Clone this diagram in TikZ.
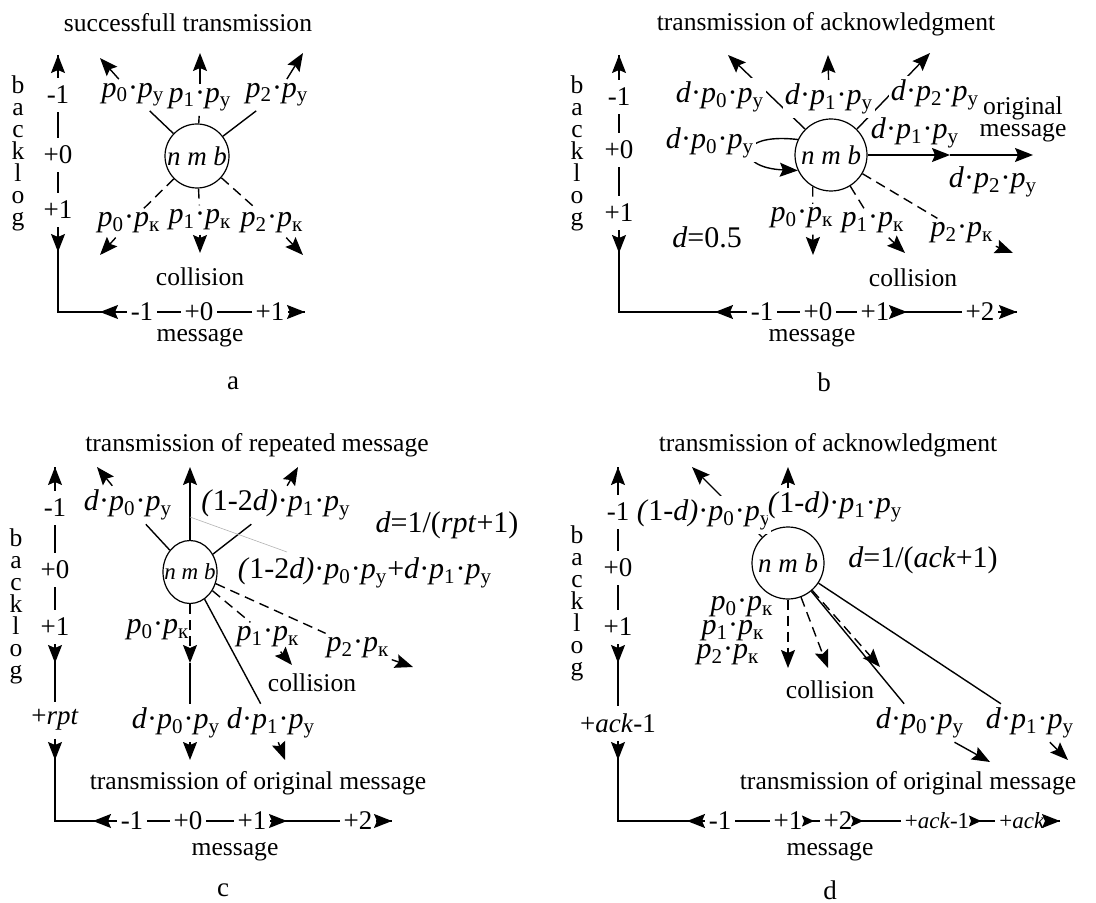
\documentclass[tikz,border=0pt]{standalone}
\usepackage{fontspec}
\setmainfont{Liberation Serif}
\usetikzlibrary{arrows.meta,shapes.geometric}

\newcommand{\prb}[2]{\textit{p}\textsubscript{#1}·\textit{p}\textsubscript{#2}}
\newcommand{\dmul}{\textit{d}·}

\tikzset{
  ax/.style={line width=0.7pt,draw=black},
  arrow/.style={ax,-{Stealth[length=9pt,width=7pt,inset=1.5pt]}},
  smallarrow/.style={ax,-{Stealth[length=6pt,width=5.5pt,inset=1pt]}},
  dashline/.style={dash pattern=on 5pt off 3pt},
  leader/.style={draw=gray!60,line width=0.3pt},
  txt/.style={font=\fontsize{12.8}{11}\selectfont,inner sep=1pt,align=center},
  num/.style={font=\fontsize{13.5}{15}\selectfont,fill=white,inner xsep=2pt,inner ysep=4pt},
  hnum/.style={num,inner ysep=1pt},
  smallnum/.style={hnum,font=\fontsize{11.5}{13}\selectfont},
  lbl/.style={font=\fontsize{15}{17}\selectfont,inner sep=1pt},
  onl/.style={lbl,fill=white,inner xsep=1pt,inner ysep=2pt},
  nmb/.style={circle,draw,line width=0.6pt,inner sep=0pt,font=\fontsize{13.5}{15}\itshape\selectfont}
}

\begin{document}
\begin{tikzpicture}[x=0.5pt,y=-0.5pt]
  \useasboundingbox (0,0) rectangle (1096,903);

  \node[txt] (ttlA) at (188,23) {successfull transmission};
  \node[txt] (blogA) at (18,153) {b\\a\\c\\k\\l\\o\\g};
  \coordinate (upA) at (58,55);
  \coordinate (dnA) at (58,252);
  \coordinate (crA) at (58,312);
  \coordinate (lfA) at (100,312);
  \coordinate (rtA) at (305,312);
  \draw[ax] (upA) -- (crA) -- (rtA);
  \node[num] (vA1) at (58,95) {-1};
  \node[num] (vA2) at (58,155) {+0};
  \node[num] (vA3) at (58,210) {+1};
  \node[hnum] (hA1) at (142,312) {-1};
  \node[hnum] (hA2) at (199,312) {+0};
  \node[hnum] (hA3) at (270,312) {+1};
  \draw[arrow] (vA1) -- (upA);
  \draw[arrow] (vA3) -- (dnA);
  \draw[arrow] (hA1) -- (lfA);
  \draw[arrow] (hA3) -- (rtA);
  \node[txt] (msgA) at (200,338) {message};
  \node[txt,font=\fontsize{13.5}{15}\selectfont] (capA) at (233,383) {a};

  \node[nmb,minimum size=32pt] (nmbA) at (197,156) {n m b};
  \coordinate (tyA0) at (100,58);
  \coordinate (tyA1) at (200,53);
  \coordinate (tyA2) at (303,53);
  \coordinate (tkA0) at (100,255);
  \coordinate (tkA1) at (200,253);
  \coordinate (tkA2) at (303,255);
  \node[onl] (pyA0) at (133,95) {\prb{0}{у}};
  \node[onl] (pyA1) at (200,100) {\prb{1}{у}};
  \node[onl] (pyA2) at (277,95) {\prb{2}{у}};
  \node[onl] (pkA0) at (129,223) {\prb{0}{к}};
  \node[onl] (pkA1) at (200,220) {\prb{1}{к}};
  \node[onl] (pkA2) at (272,223) {\prb{2}{к}};
  \draw[ax] (nmbA) -- (pyA0);
  \draw[ax] (nmbA) -- (pyA1);
  \draw[ax] (nmbA) -- (pyA2);
  \draw[arrow] (pyA0) -- (tyA0);
  \draw[arrow] (pyA1) -- (tyA1);
  \draw[arrow] (pyA2) -- (tyA2);
  \draw[ax,dashline] (nmbA) -- (pkA0);
  \draw[ax,dashline] (nmbA) -- (pkA1);
  \draw[ax,dashline] (nmbA) -- (pkA2);
  \draw[arrow] (pkA0) -- (tkA0);
  \draw[arrow] (pkA1) -- (tkA1);
  \draw[arrow] (pkA2) -- (tkA2);
  \node[txt] (colA) at (200,277) {collision};

  \node[txt] (ttlB) at (826,24) {transmission of acknowledgment};
  \node[txt] (blogB) at (577,153) {b\\a\\c\\k\\l\\o\\g};
  \coordinate (upB) at (619,55);
  \coordinate (dnB) at (619,253);
  \coordinate (crB) at (619,312);
  \coordinate (lfB) at (715,312);
  \coordinate (mdB) at (907,312);
  \coordinate (rtB) at (1017,312);
  \draw[ax] (upB) -- (crB) -- (rtB);
  \node[num] (vB1) at (619,97) {-1};
  \node[num] (vB2) at (619,150) {+0};
  \node[num] (vB3) at (619,213) {+1};
  \node[hnum] (hB1) at (762,312) {-1};
  \node[hnum] (hB2) at (818,312) {+0};
  \node[hnum] (hB3) at (875,312) {+1};
  \node[hnum] (hB4) at (980,312) {+2};
  \draw[arrow] (vB1) -- (upB);
  \draw[arrow] (vB3) -- (dnB);
  \draw[arrow] (hB1) -- (lfB);
  \draw[arrow] (hB3) -- (mdB);
  \draw[arrow] (hB4) -- (rtB);
  \node[txt] (msgB) at (812,338) {message};
  \node[txt,font=\fontsize{13.5}{15}\selectfont] (capB) at (824,382) {b};

  \node[nmb,minimum size=36pt] (nmbB) at (831,155) {n m b};
  \coordinate (tyB0) at (728,55);
  \coordinate (tyB1) at (828,55);
  \coordinate (tyB2) at (930,53);
  \coordinate (thB1) at (950,155);
  \coordinate (thB2) at (1033,155);
  \coordinate (tkB0) at (813,255);
  \coordinate (tkB1) at (905,253);
  \coordinate (tkB2) at (1013,253);
  \draw[arrow] (nmbB.135) -- (tyB0);
  \draw[arrow] (nmbB.45) -- (tyB2);
  \draw[arrow] (nmbB.155) .. controls (735,132) and (735,168) .. (nmbB.205);
  \draw[arrow] (nmbB) -- (thB1);
  \draw[arrow] (thB1) -- (thB2);
  \draw[arrow,dashline] (nmbB.240) -- (tkB0);
  \node[onl] (pyB0) at (720,97) {\dmul\prb{0}{у}};
  \node[onl] (pyB1) at (829,99) {\dmul\prb{1}{у}};
  \node[onl] (pyB2) at (935,95) {\dmul\prb{2}{у}};
  \node[onl] (lpB) at (710,143) {\dmul\prb{0}{у}};
  \node[lbl] (hyB1) at (915,133) {\dmul\prb{1}{у}};
  \node[lbl] (hyB2) at (993,182) {\dmul\prb{2}{у}};
  \node[txt] (origB) at (1023,119) {original\\message};
  \node[onl] (pkB0) at (802,218) {\prb{0}{к}};
  \node[onl] (pkB1) at (873,223) {\prb{1}{к}};
  \node[onl] (pkB2) at (962,233) {\prb{2}{к}};
  \draw[ax] (nmbB) -- (pyB1);
  \draw[arrow] (pyB1) -- (tyB1);
  \draw[ax,dashline] (nmbB) -- (pkB1);
  \draw[ax,dashline] (nmbB) -- (pkB2);
  \draw[arrow] (pkB1) -- (tkB1);
  \draw[arrow] (pkB2) -- (tkB2);
  \node[lbl] (dB) at (707,237) {\textit{d}=0.5};
  \node[txt] (colB) at (913,278) {collision};

  \node[txt] (ttlC) at (257,445) {transmission of repeated message};
  \node[txt] (blogC) at (16,606) {b\\a\\c\\k\\l\\o\\g};
  \coordinate (upC) at (55,467);
  \coordinate (d1C) at (55,663);
  \coordinate (d2C) at (55,760);
  \coordinate (crC) at (55,821);
  \coordinate (lfC) at (93,821);
  \coordinate (mdC) at (287,821);
  \coordinate (rtC) at (392,821);
  \draw[ax] (upC) -- (crC) -- (rtC);
  \node[num] (vC1) at (55,508) {-1};
  \node[num] (vC2) at (55,570) {+0};
  \node[num] (vC3) at (55,627) {+1};
  \node[num] (vC4) at (55,720) {+\textit{rpt}};
  \node[hnum] (hC1) at (132,821) {-1};
  \node[hnum] (hC2) at (188,821) {+0};
  \node[hnum] (hC3) at (252,821) {+1};
  \node[hnum] (hC4) at (358,821) {+2};
  \draw[arrow] (vC1) -- (upC);
  \draw[arrow] (vC3) -- (d1C);
  \draw[arrow] (vC4) -- (d2C);
  \draw[arrow] (hC1) -- (lfC);
  \draw[arrow] (hC3) -- (mdC);
  \draw[arrow] (hC4) -- (rtC);
  \node[txt] (msgC) at (235,852) {message};
  \node[txt,font=\fontsize{13.5}{15}\selectfont] (capC) at (223,890) {c};

  \node[nmb,ellipse,minimum width=27pt,minimum height=31.5pt] (nmbC) at (190,572) {};
  \node[font=\fontsize{11.5}{13}\itshape\selectfont,inner sep=0pt] (txtC) at (nmbC) {n m b};
  \coordinate (tyC0) at (97,467);
  \coordinate (tyC1) at (190,467);
  \coordinate (tyC2) at (298,467);
  \coordinate (tkC0) at (190,663);
  \coordinate (tkC1) at (292,665);
  \coordinate (tkC2) at (413,667);
  \coordinate (tyC3) at (190,760);
  \coordinate (tyC4) at (285,760);
  \draw[arrow] (nmbC) -- (tyC1);
  \draw[arrow,dashline] (nmbC) -- (tkC0);
  \draw[arrow] (tkC0) -- (tyC3);
  \node[onl] (pyC0) at (128,505) {\dmul\prb{0}{у}};
  \node[onl] (pyC2) at (276,505) {\textit{(}1-2\textit{d)}·\prb{1}{у}};
  \node[lbl] (sumC) at (365,573) {\textit{(}1-2\textit{d)}·\prb{0}{у}+\dmul\prb{1}{у}};
  \node[lbl] (dC) at (447,525) {\textit{d}=1/(\textit{rpt}+1)};
  \node[lbl] (pkC0) at (158,630) {\prb{0}{к}};
  \node[onl] (pkC1) at (268,637) {\prb{1}{к}};
  \node[onl] (pkC2) at (358,648) {\prb{2}{к}};
  \node[onl,inner xsep=0pt] (pyC3) at (176,723) {\dmul\prb{0}{у}};
  \node[onl,inner xsep=0pt] (pyC4) at (271,723) {\dmul\prb{1}{у}};
  \draw[ax] (nmbC) -- (pyC0);
  \draw[arrow] (pyC0) -- (tyC0);
  \draw[ax] (nmbC) -- (pyC2);
  \draw[arrow] (pyC2) -- (tyC2);
  \draw[ax,dashline] (nmbC) -- (pkC1);
  \draw[arrow] (pkC1) -- (tkC1);
  \draw[ax,dashline] (nmbC) -- (pkC2);
  \draw[arrow] (pkC2) -- (tkC2);
  \draw[ax] (nmbC) -- (pyC4);
  \draw[arrow] (pyC4) -- (tyC4);
  \coordinate (ldC1) at (190,517);
  \coordinate (ldC2) at (287,552);
  \draw[leader] (ldC1) -- (ldC2);
  \node[txt] (colC) at (312,683) {collision};
  \node[txt] (origC) at (258,783) {transmission of original message};

  \node[txt] (ttlD) at (828,445) {transmission of acknowledgment};
  \node[txt] (blogD) at (577,603) {b\\a\\c\\k\\l\\o\\g};
  \coordinate (upD) at (618,467);
  \coordinate (d1D) at (618,663);
  \coordinate (d2D) at (618,760);
  \coordinate (crD) at (618,821);
  \coordinate (lfD) at (687,821);
  \coordinate (m1D) at (814,821);
  \coordinate (m2D) at (863,821);
  \coordinate (m3D) at (981,821);
  \coordinate (rtD) at (1060,821);
  \draw[ax] (upD) -- (crD) -- (rtD);
  \node[num] (vD1) at (618,512) {-1};
  \node[num] (vD2) at (618,568) {+0};
  \node[num] (vD3) at (618,627) {+1};
  \node[num] (vD4) at (618,723) {+\textit{ack}-1};
  \node[hnum] (hD1) at (720,821) {-1};
  \node[hnum] (hD2) at (788,821) {+1};
  \node[hnum] (hD3) at (838,821) {+2};
  \node[smallnum] (hD4) at (937,821) {+\textit{ack}-1};
  \node[smallnum] (hD5) at (1022,821) {+\textit{ack}};
  \draw[arrow] (vD1) -- (upD);
  \draw[arrow] (vD3) -- (d1D);
  \draw[arrow] (vD4) -- (d2D);
  \draw[arrow] (hD1) -- (lfD);
  \draw[smallarrow] (hD2) -- (m1D);
  \draw[smallarrow] (hD3) -- (m2D);
  \draw[smallarrow] (hD4) -- (m3D);
  \draw[arrow] (hD5) -- (rtD);
  \node[txt] (msgD) at (830,852) {message};
  \node[txt,font=\fontsize{13.5}{15}\selectfont] (capD) at (830,890) {d};

  \node[nmb,minimum size=36pt] (nmbD) at (788,563) {n m b};
  \coordinate (tyD0) at (692,467);
  \coordinate (tyD1) at (788,467);
  \coordinate (tkD0) at (788,668);
  \coordinate (tkD1) at (828,668);
  \coordinate (tkD2) at (880,667);
  \coordinate (tyD2) at (990,762);
  \coordinate (tyD3) at (1068,760);
  \draw[arrow] (nmbD.135) -- (tyD0);
  \draw[arrow] (nmbD) -- (tyD1);
  \draw[arrow,dashline] (nmbD) -- (tkD0);
  \draw[arrow,dashline] (nmbD) -- (tkD1);
  \draw[arrow,dashline] (nmbD) -- (tkD2);
  \node[onl,inner xsep=0pt] (pyD0) at (704,515) {\textit{(}1-\textit{d)}·\prb{0}{у}};
  \node[onl,inner xsep=0pt] (pyD1) at (835,507) {\textit{(}1-\textit{d)}·\prb{1}{у}};
  \node[lbl] (dD) at (923,560) {\textit{d}=1/(\textit{ack}+1)};
  \node[lbl,inner sep=0pt] (pkD0) at (742,607) {\prb{0}{к}};
  \node[lbl,inner sep=0pt] (pkD1) at (733,631) {\prb{1}{к}};
  \node[lbl,inner sep=0pt] (pkD2) at (728,655) {\prb{2}{к}};
  \node[onl] (pyD2) at (920,723) {\dmul\prb{0}{у}};
  \node[onl] (pyD3) at (1030,723) {\dmul\prb{1}{у}};
  \draw[ax] (nmbD) -- (pyD2);
  \draw[arrow] (pyD2) -- (tyD2);
  \draw[ax] (nmbD) -- (pyD3);
  \draw[arrow] (pyD3) -- (tyD3);
  \node[txt] (colD) at (830,690) {collision};
  \node[txt] (origD) at (908,783) {transmission of original message};
\end{tikzpicture}
\end{document}
